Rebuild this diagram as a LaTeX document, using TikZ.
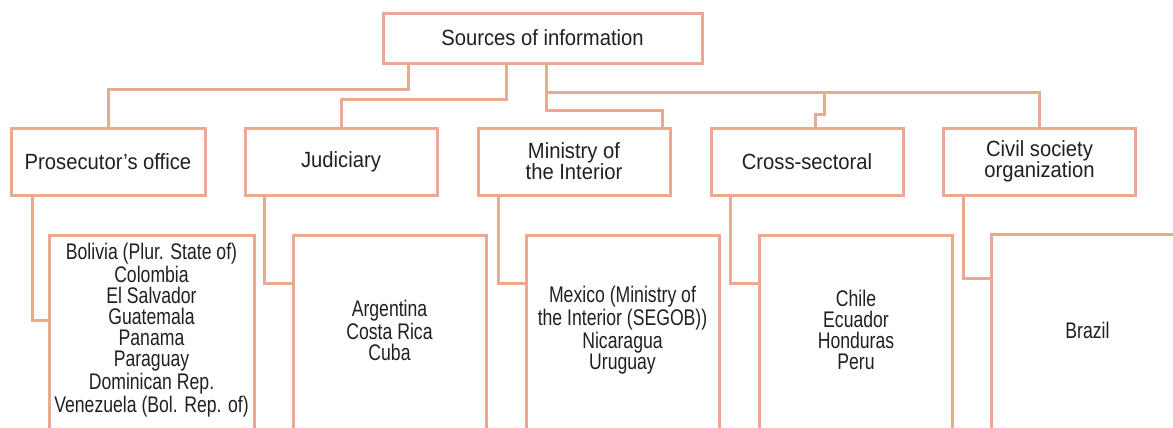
\documentclass[tikz,border=0pt]{standalone}
\usepackage{fontspec}
\setmainfont{Liberation Sans}[FakeStretch=0.92]
\newfontfamily\narrowfont{Liberation Sans}[FakeStretch=0.78]
\usetikzlibrary{calc}

\definecolor{boxline}{RGB}{233,170,145}
\definecolor{boxtext}{RGB}{35,31,32}

\begin{document}
\begin{tikzpicture}[x=0.5pt,y=-0.5pt,
	box/.style={draw=boxline, line width=1.5pt, outer sep=0pt, inner sep=0pt, align=center, text=boxtext, font=\fontsize{11}{10.5}\selectfont},
	headbox/.style={box, minimum width=159.5pt, minimum height=25pt},
	sourcebox/.style={box, minimum width=96pt, minimum height=33.5pt},
	countrybox/.style={box, minimum width=96.5pt, minimum height=110pt, anchor=north},
	countries/.style={align=center, text=boxtext, font=\narrowfont\fontsize{11.3}{10.5}\selectfont, inner sep=0pt},
	link/.style={draw=boxline, line width=1.5pt}]

	%Picture frame, the lower boxes run out of it
	\useasboundingbox (0,0) rectangle (1173,428);
	\clip (0,0) rectangle (1173,428);

	%Rows: y of the source boxes and top of the country boxes
	\pgfmathsetmacro{\ysrc}{161.5}
	\pgfmathsetmacro{\ycty}{235}
	\pgfmathsetmacro{\ytxt}{330}

	%Top box
	\node[headbox] (top) at (542.5,38) {Sources of information};

	%Source boxes
	\node[sourcebox, minimum width=97pt] (pros) at (108,\ysrc) {Prosecutor’s office};
	\node[sourcebox] (jud) at (341,\ysrc) {Judiciary};
	\node[sourcebox] (min) at (574,\ysrc) {Ministry of\\the Interior};
	\node[sourcebox] (cro) at (807,\ysrc) {Cross-sectoral};
	\node[sourcebox] (civ) at (1039.5,\ysrc) {Civil society\\organization};

	%Country boxes (open at the bottom)
	\node[countrybox, minimum width=102.5pt] (b1) at (151.5,\ycty) {};
	\node[countrybox] (b2) at (389.5,\ycty) {};
	\node[countrybox] (b3) at (622.5,\ycty) {};
	\node[countrybox] (b4) at (856,\ycty) {};
	\node[countrybox] (b5) at (1087.5,\ycty-1) {};

	\node[countries] (t1) at (b1.north |- 0,\ytxt) {Bolivia (Plur. State of)\\Colombia\\El Salvador\\Guatemala\\Panama\\Paraguay\\Dominican Rep.\\Venezuela (Bol. Rep. of)};
	\node[countries] (t2) at (b2.north |- 0,\ytxt) {Argentina\\Costa Rica\\Cuba};
	\node[countries] (t3) at (b3.north |- 0,\ytxt) {Mexico (Ministry of\\the Interior (SEGOB))\\Nicaragua\\Uruguay};
	\node[countries] (t4) at (b4.north |- 0,\ytxt) {Chile\\Ecuador\\Honduras\\Peru};
	\node[countries] (t5) at (b5.north |- 0,\ytxt) {Brazil};

	%Links from the top box
	\draw[link] ($(top.south west)+(25,0)$) -- ++(0,26) -| (pros.north);
	\draw[link] ($(top.south west)+(123,0)$) -- ++(0,36) -| (jud.north);
	\draw[link] ($(top.south west)+(163,0)$) -- ++(0,47) -| ($(min.north east)+(-8,0)$);
	\draw[link] ($(top.south west)+(163,29)$) -| (civ.north);
	\draw[link] ($(cro.north)+(17,-36)$) -- ++(0,22) -| ($(cro.north)+(8,0)$);

	%Links to the country boxes
	\draw[link] ($(pros.south west)+(21,0)$) |- ($(b1.north west)+(0,85)$);
	\draw[link] ($(jud.south west)+(19,0)$) |- ($(b2.north west)+(0,48)$);
	\draw[link] ($(min.south west)+(20,0)$) |- ($(b3.north west)+(0,48)$);
	\draw[link] ($(cro.south west)+(19,0)$) |- ($(b4.north west)+(0,48)$);
	\draw[link] ($(civ.south west)+(20,0)$) |- ($(b5.north west)+(0,44)$);

\end{tikzpicture}
\end{document}
